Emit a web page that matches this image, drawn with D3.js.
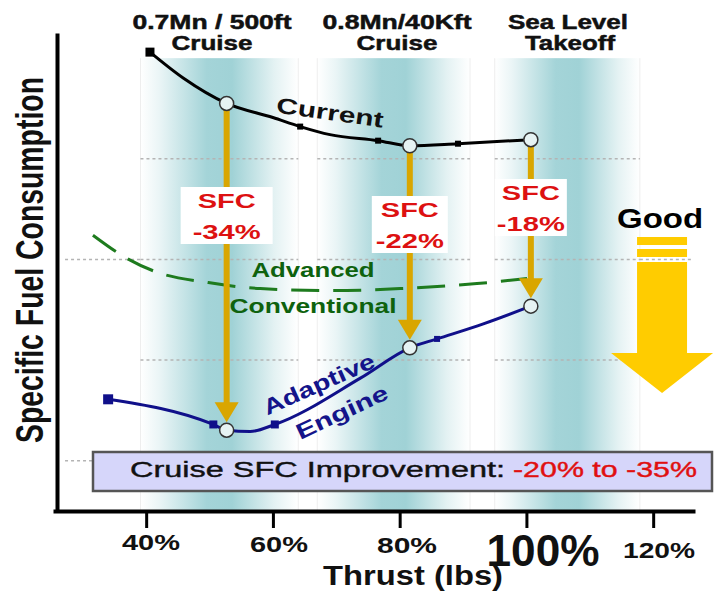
<!DOCTYPE html>
<html>
<head>
<meta charset="utf-8">
<script src="https://cdn.jsdelivr.net/npm/d3@7"></script>
<style>
  html, body { margin: 0; padding: 0; background: #fff; }
  svg { display: block; font-family: "Liberation Sans", Arial, sans-serif; }
</style>
</head>
<body>
<svg id="chart" width="719" height="591"></svg>
<script>
// Thrust in % of rated, SFC in relative units.
const currentThrust  = [40.6, 45.9, 52.7, 60.0, 64.3, 69.0, 76.6, 81.6, 89.2, 100.7];
const currentSfc     = [1.006, 0.980, 0.955, 0.941, 0.932, 0.924, 0.918, 0.913, 0.915, 0.919];
const currentMarks   = [64.3, 76.6, 89.2];

const adaptiveThrust = [34.0, 50.6, 56.4, 60.3, 73.8, 85.9, 93.2];
const adaptiveSfc    = [0.661, 0.636, 0.629, 0.636, 0.682, 0.721, 0.736];
const adaptiveMarks  = [50.6, 60.3, 85.9];

const advancedThrust = [31.6, 36.7, 41.4, 49.8, 58.0, 69.0, 80.1, 92.2, 100.1];
const advancedSfc    = [0.824, 0.802, 0.788, 0.777, 0.771, 0.769, 0.771, 0.776, 0.781];

const conditionLine1  = ["0.7Mn / 500ft", "0.8Mn/40Kft", "Sea Level"];
const conditionLine2  = ["Cruise", "Cruise", "Takeoff"];
const conditionThrust = [52.7, 81.6, 100.7];
const sfcReduction    = [34, 22, 18];   // percent SFC reduction, current -> adaptive

const xTicks      = [40, 60, 80, 100, 120];
const xTickLabels = ["40%", "60%", "80%", "100%", "120%"];
const gridSfc     = [0.6, 0.7, 0.8, 0.9];
const bandRanges  = [[39.1, 64.0], [67.0, 91.1], [95.0, 117.9]];

// ---------------------------------------------------------------
const svg = d3.select("#chart");
const x = d3.scaleLinear().domain([25.3, 126.6]).range([53, 695]);
const y = d3.scaleLinear().domain([0.55, 1.025]).range([511, 33]);

const fit = (sel, w) => sel.attr("textLength", w).attr("lengthAdjust", "spacingAndGlyphs");

const zip = (ts, vs) => ts.map((t, i) => ({ t, v: vs[i] }));
const current  = zip(currentThrust, currentSfc);
const advanced = zip(advancedThrust, advancedSfc);
const curAt = t => current.find(d => d.t === t).v;

// adaptive engine SFC at each flight condition follows from the stated reduction
const condPts = conditionThrust.map((t, i) => ({
  t, cur: curAt(t), ada: curAt(t) * (1 - sfcReduction[i] / 100)
}));
const adaptive = zip(adaptiveThrust, adaptiveSfc)
  .concat(condPts.map(d => ({ t: d.t, v: d.ada })))
  .sort((a, b) => a.t - b.t);

// ---- shaded operating bands
const defs = svg.append("defs");
const grad = defs.append("linearGradient").attr("id", "bandFill")
  .attr("x1", 0).attr("x2", 1).attr("y1", 0).attr("y2", 0);
[[0, "#ffffff"], [0.12, "#eaf5f6"], [0.42, "#a4d4d8"], [0.58, "#a0d2d6"], [0.85, "#e4f2f3"], [1, "#ffffff"]]
  .forEach(([o, c]) => grad.append("stop").attr("offset", o).attr("stop-color", c));

svg.append("g").selectAll("rect").data(bandRanges).join("rect")
  .attr("x", d => x(d[0])).attr("width", d => x(d[1]) - x(d[0]))
  .attr("y", y(1.0)).attr("height", y(0.55) - y(1.0))
  .attr("fill", "url(#bandFill)");

svg.append("g").selectAll("line").data(bandRanges.flat()).join("line")
  .attr("x1", d => x(d)).attr("x2", d => x(d))
  .attr("y1", y(1.0)).attr("y2", y(0.55))
  .attr("stroke", "#eeeeee").attr("stroke-width", 1);

// ---- dotted gridlines, drawn band by band
const gridSegs = [];
gridSfc.forEach(g => bandRanges.forEach(b => gridSegs.push([g, b[0], b[1]])));
gridSegs.push([0.6, 27.2, 39.1], [0.8, 27.2, 39.1], [0.8, 117.9, 126.2], [0.7, 117.9, 121.4]);
svg.append("g").selectAll("line").data(gridSegs).join("line")
  .attr("x1", d => x(d[1])).attr("x2", d => x(d[2]))
  .attr("y1", d => y(d[0])).attr("y2", d => y(d[0]))
  .attr("stroke", "#b4b4b4").attr("stroke-width", 1.5).attr("stroke-dasharray", "3,3");

// ---- "Good" direction arrow
const gx = x(121.4);
const ga = svg.append("g").attr("fill", "#ffcc00");
ga.append("rect").attr("x", gx - 25).attr("y", 237).attr("width", 50).attr("height", 8);
ga.append("rect").attr("x", gx - 25).attr("y", 249).attr("width", 50).attr("height", 8);
ga.append("path").attr("d",
  `M${gx - 25},262 L${gx + 25},262 L${gx + 25},353 L${gx + 51},353 L${gx},393 L${gx - 51},353 L${gx - 25},353 Z`);
fit(svg.append("text").attr("x", gx - 2).attr("y", 228).attr("text-anchor", "middle")
  .attr("font-size", 28).attr("font-weight", "bold").attr("fill", "#000")
  .text("Good"), 86);

// ---- improvement banner
svg.append("rect").attr("x", 93).attr("y", 452).attr("width", 619).attr("height", 39)
  .attr("fill", "#d6d6fa").attr("stroke", "#555").attr("stroke-width", 2.5);
fit(svg.append("text").attr("x", 130).attr("y", 477).attr("font-size", 22)
  .attr("fill", "#111").attr("stroke", "#111").attr("stroke-width", 0.4)
  .text("Cruise SFC Improvement:"), 375);
fit(svg.append("text").attr("x", 513).attr("y", 477).attr("font-size", 22)
  .attr("fill", "#e01010").attr("stroke", "#e01010").attr("stroke-width", 0.4)
  .text("-20% to -35%"), 184);

// ---- axes
const xAxis = svg.append("g").attr("transform", `translate(0,${y(0.55)})`)
  .call(d3.axisBottom(x).tickValues(xTicks).tickSize(17).tickSizeOuter(0).tickFormat(""));
xAxis.select(".domain").attr("stroke", "#000").attr("stroke-width", 4);
xAxis.selectAll(".tick line").attr("stroke", "#000").attr("stroke-width", 3);

const yAxis = svg.append("g").attr("transform", "translate(57,0)")
  .call(d3.axisLeft(y).tickValues([]).tickSizeOuter(0));
yAxis.select(".domain").attr("stroke", "#000").attr("stroke-width", 4);

const tickCx = [151, 279, 407, 543, 659];
const tickBase = [550, 552, 553, 566, 558];
const tickW = [58, 58, 60, 113, 72];
xTickLabels.forEach((s, i) => {
  const big = s === "100%";
  fit(svg.append("text").attr("x", tickCx[i]).attr("y", tickBase[i])
    .attr("text-anchor", "middle").attr("font-weight", "bold")
    .attr("font-size", big ? 44 : 22).attr("fill", "#111")
    .text(s), tickW[i]);
});

fit(svg.append("text").attr("x", 413).attr("y", 585).attr("text-anchor", "middle")
  .attr("font-size", 28).attr("font-weight", "bold").attr("fill", "#111")
  .text("Thrust (lbs)"), 180);

fit(svg.append("text").attr("transform", "translate(43,260) scale(1.4,1) rotate(-90)")
  .attr("text-anchor", "middle").attr("font-size", 28).attr("font-weight", "bold")
  .attr("fill", "#111").text("Specific Fuel Consumption"), 366);

// ---- condition headings
const headCx1 = [212, 397, 568], headCx2 = [212, 397, 570];
const headW1 = [159, 149, 120], headW2 = [81, 81, 90];
conditionLine1.forEach((s, i) => {
  fit(svg.append("text").attr("x", headCx1[i]).attr("y", 29).attr("text-anchor", "middle")
    .attr("font-size", 21).attr("font-weight", "bold").attr("fill", "#111")
    .attr("stroke", "#111").attr("stroke-width", 0.5).text(s), headW1[i]);
  fit(svg.append("text").attr("x", headCx2[i]).attr("y", 50).attr("text-anchor", "middle")
    .attr("font-size", 21).attr("font-weight", "bold").attr("fill", "#111")
    .attr("stroke", "#111").attr("stroke-width", 0.5).text(conditionLine2[i]), headW2[i]);
});

// ---- curves
const line = d3.line().x(d => x(d.t)).y(d => y(d.v)).curve(d3.curveMonotoneX);

svg.append("path").datum(advanced).attr("d", line).attr("fill", "none")
  .attr("stroke", "#1e7b1e").attr("stroke-width", 3).attr("stroke-dasharray", "28,14");
svg.append("path").datum(current).attr("d", line).attr("fill", "none")
  .attr("stroke", "#000").attr("stroke-width", 3);
svg.append("path").datum(adaptive).attr("d", line).attr("fill", "none")
  .attr("stroke", "#10108a").attr("stroke-width", 3);

// markers
const sq = (g, t, v, s, c) => g.append("rect").attr("x", x(t) - s / 2).attr("y", y(v) - s / 2)
  .attr("width", s).attr("height", s).attr("fill", c);
const mk = svg.append("g");
sq(mk, current[0].t, current[0].v, 9, "#000");
currentMarks.forEach(t => sq(mk, t, curAt(t), 6, "#000"));
sq(mk, adaptiveThrust[0], adaptiveSfc[0], 10, "#10108a");
adaptiveMarks.forEach(t => sq(mk, t, adaptive.find(d => d.t === t).v, t > 80 ? 6 : 8, "#10108a"));

// ---- curve labels
fit(svg.append("text").attr("transform", "translate(329,120) rotate(8)")
  .attr("text-anchor", "middle").attr("font-size", 22).attr("font-weight", "bold")
  .attr("fill", "#111").text("Current"), 108);
fit(svg.append("text").attr("x", 313).attr("y", 277).attr("text-anchor", "middle")
  .attr("font-size", 20).attr("font-weight", "bold").attr("fill", "#0e620e")
  .text("Advanced"), 123);
fit(svg.append("text").attr("x", 313).attr("y", 313).attr("text-anchor", "middle")
  .attr("font-size", 20).attr("font-weight", "bold").attr("fill", "#0e620e")
  .text("Conventional"), 167);
fit(svg.append("text").attr("transform", "translate(322,391) rotate(-24)")
  .attr("text-anchor", "middle").attr("font-size", 22).attr("font-weight", "bold")
  .attr("fill", "#14148a").text("Adaptive"), 120);
fit(svg.append("text").attr("transform", "translate(345,419) rotate(-25)")
  .attr("text-anchor", "middle").attr("font-size", 22).attr("font-weight", "bold")
  .attr("fill", "#14148a").text("Engine"), 99);

// ---- SFC reduction arrows
const gold = "#d9a600";
const arr = svg.append("g");
condPts.forEach(d => {
  const cx = x(d.t), y0 = y(d.cur), tip = y(d.ada) - 8;
  arr.append("rect").attr("x", cx - 3).attr("y", y0).attr("width", 6).attr("height", tip - 18 - y0)
    .attr("fill", gold);
  arr.append("path").attr("d", `M${cx - 12},${tip - 20} L${cx + 12},${tip - 20} L${cx},${tip} Z`)
    .attr("fill", gold);
});

// labels on the arrows
const boxSfcBase = [208, 217, 200];
const boxW = [92, 76, 72];
condPts.forEach((d, i) => {
  const cx = x(d.t), b = boxSfcBase[i];
  svg.append("rect").attr("x", cx - boxW[i] / 2).attr("y", b - 21)
    .attr("width", boxW[i]).attr("height", 57).attr("fill", "#fff");
  fit(svg.append("text").attr("x", cx).attr("y", b).attr("text-anchor", "middle")
    .attr("font-size", 21).attr("font-weight", "bold").attr("fill", "#dd1111")
    .text("SFC"), 58);
  fit(svg.append("text").attr("x", cx).attr("y", b + 31).attr("text-anchor", "middle")
    .attr("font-size", 21).attr("font-weight", "bold").attr("fill", "#dd1111")
    .text(`-${sfcReduction[i]}%`), 68);
});

// condition circles on both curves
svg.append("g").selectAll("circle")
  .data(condPts.flatMap(d => [{ t: d.t, v: d.cur }, { t: d.t, v: d.ada }]))
  .join("circle")
  .attr("cx", d => x(d.t)).attr("cy", d => y(d.v)).attr("r", 7)
  .attr("fill", "#e6f3f3").attr("stroke", "#333").attr("stroke-width", 1.5);
</script>
</body>
</html>
